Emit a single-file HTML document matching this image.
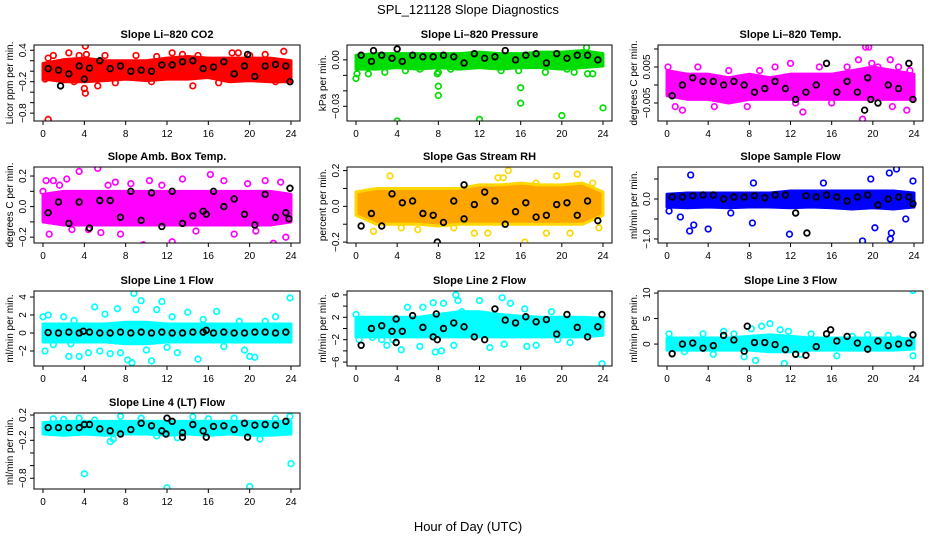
<!DOCTYPE html>
<html><head><meta charset="utf-8"><style>
body{margin:0;background:#fff;}
svg{display:block;font-family:"Liberation Sans",sans-serif;}
</style></head><body>
<svg id="chart" width="936" height="540" viewBox="0 0 936 540">
<rect width="936" height="540" fill="#fff"/>
<text x="468" y="14" text-anchor="middle" font-size="13">SPL_121128  Slope Diagnostics</text>
<text x="468" y="531" text-anchor="middle" font-size="13">Hour of Day (UTC)</text>
</svg>
<script>
const hourTicks = [0,4,8,12,16,20,24];
const bandT = [0,2,4,6,8,10,12,14,16,18,20,22,24];
const blackT = [0.5,1.5,2.5,3.5,4.5,5.5,6.5,7.5,8.5,9.5,10.5,11.5,12.5,13.5,14.5,15.5,16.5,17.5,18.5,19.5,20.5,21.5,22.5,23.5];

// Panel 1: CO2
const lo1 = [-0.15,-0.2,-0.2,-0.18,-0.15,-0.18,-0.15,-0.15,-0.12,-0.2,-0.18,-0.2,-0.2];
const hi1 = [0.15,0.22,0.25,0.2,0.2,0.2,0.25,0.28,0.25,0.25,0.25,0.25,0.2];
const ct1 = [0.2,0.5,1.0,1.5,2.5,3.0,3.5,4.1,4.2,4.0,4.1,5.3,6.0,7.0,9.0,10.5,11.0,12.5,13.5,14.5,15.0,17.0,18.3,18.9,20.0,21.5,22.5,23.3,23.9,0.5];
const cv1 = [-0.15,0.25,0.3,-0.1,0.35,-0.2,0.3,0.48,0.32,-0.33,-0.42,-0.28,0.3,-0.22,0.3,-0.2,0.28,0.35,0.32,-0.28,0.3,-0.22,0.35,0.35,0.3,0.32,-0.2,0.38,-0.2,-0.92];
const bv1 = [0.05,0.02,-0.05,0.1,0.06,0.2,0.05,0.1,0.0,0.02,0.0,0.12,0.12,0.18,0.2,0.05,0.08,0.18,-0.05,0.1,-0.1,0.1,0.13,0.1];
const xt1 = [1.7,23.9,4.0,19.8];
const xv1 = [-0.28,-0.2,-0.15,0.32];

// Panel 2: Pressure
const lo2 = [-0.006,-0.006,-0.005,-0.006,-0.005,-0.006,-0.005,-0.006,-0.005,-0.005,-0.006,-0.005,-0.004];
const hi2 = [0.003,0.004,0.004,0.004,0.004,0.004,0.005,0.004,0.004,0.005,0.005,0.006,0.004];
const ct2 = [0,0.1,1.2,2.8,4,4.8,6.2,7.9,8,8,8,9.2,12,14.1,15.8,16,16,18.4,20,20.5,21.2,22.5,23.0,24,22.4];
const cv2 = [-0.012,-0.009,-0.009,-0.008,-0.0395,-0.007,-0.006,-0.009,-0.017,-0.023,-0.008,-0.006,-0.0385,-0.007,-0.007,-0.018,-0.028,-0.008,-0.036,-0.006,-0.008,-0.009,-0.009,-0.031,0.008];
const bv2 = [0.003,-0.001,0.003,0.001,-0.001,0.003,0.002,0.002,0.003,0.002,-0.002,0.004,0.001,0.002,0.006,0.0,0.003,0.004,-0.002,0.004,0.001,0.003,0.003,0.0];
const xt2 = [1.7,4.0];
const xv2 = [0.006,0.007];

// Panel 3: Li-820 Temp
const lo3 = [-0.003,-0.004,-0.004,-0.005,-0.004,-0.004,-0.004,-0.004,-0.004,-0.004,-0.004,-0.004,-0.004];
const hi3 = [0.004,0.003,0.003,0.002,0.003,0.002,0.003,0.003,0.003,0.004,0.005,0.004,0.003];
const ct3 = [0.1,0.8,1.5,3,4.6,6,7.8,9,10.5,12.5,13.2,14.8,16,17.5,18.6,19,19.3,19.6,19.9,20.5,21.7,21.9,22.5,23.3,23.6,12];
const cv3 = [0.005,-0.006,-0.007,0.005,-0.006,0.004,-0.006,0.004,0.005,-0.005,-0.0075,0.005,-0.005,0.005,0.007,-0.0095,0.0105,0.0105,0.006,0.005,0.007,-0.006,0.005,-0.007,0.004,0.006];
const bv3 = [-0.003,0.0,0.002,0.001,0.001,0.0,0.001,0.0,-0.002,-0.001,0.001,-0.001,-0.004,-0.002,0.0,0.006,-0.002,0.001,-0.002,0.002,-0.005,0.0,-0.001,0.006];
const xt3 = [19.2,19.8,23.9];
const xv3 = [-0.007,-0.004,-0.004];

// Panel 4: Amb Box Temp
const lo4 = [-0.1,-0.12,-0.12,-0.12,-0.12,-0.12,-0.12,-0.12,-0.12,-0.12,-0.12,-0.12,-0.1];
const hi4 = [0.08,0.1,0.1,0.1,0.1,0.1,0.1,0.1,0.1,0.1,0.1,0.1,0.08];
const ct4 = [0,0.3,0.6,1,1.6,2.3,2.8,3.5,4.4,5.3,5.6,6.3,7.0,7.5,8.5,9.7,10.3,11.5,12.5,13.5,14.8,16.2,17.5,18.5,19.8,20.6,21.5,22.3,23,23.5];
const cv4 = [0.1,0.17,-0.18,0.17,0.14,0.18,-0.15,0.23,-0.15,0.25,-0.17,0.14,0.16,-0.18,0.15,-0.25,0.17,0.14,-0.23,0.18,-0.16,0.21,0.17,-0.18,0.15,-0.16,0.17,-0.24,0.16,-0.2];
const bv4 = [-0.04,0.03,-0.11,0.03,-0.14,0.04,0.04,-0.07,0.1,-0.09,0.09,-0.13,0.1,-0.11,-0.06,-0.03,0.1,0.0,0.05,-0.05,-0.12,0.08,-0.07,-0.04];
const xt4 = [23.9,23.8,15.8];
const xv4 = [0.12,-0.08,-0.05];

// Panel 5: Gas Stream RH
const lo5 = [-0.05,-0.1,-0.1,-0.1,-0.11,-0.1,-0.1,-0.1,-0.1,-0.1,-0.1,-0.1,-0.05];
const hi5 = [0.08,0.1,0.1,0.1,0.1,0.1,0.12,0.12,0.13,0.12,0.12,0.13,0.08];
const ct5 = [1.7,3.3,4.4,6,9.5,11.5,12.8,13.8,14.3,14.8,16.4,17.5,18.5,19.5,20.8,21.5,23,23.6];
const cv5 = [-0.14,0.17,-0.12,-0.13,-0.12,-0.15,-0.15,0.16,0.16,0.2,-0.2,0.13,-0.15,0.17,-0.15,0.18,0.13,-0.12];
const bv5 = [-0.11,-0.04,-0.11,0.07,0.02,0.03,-0.04,-0.05,-0.09,0.03,-0.07,0.01,0.08,0.03,-0.1,-0.03,0.02,-0.06,-0.05,0.01,0.02,-0.05,0.03,-0.08];
const xt5 = [7.9,10.5];
const xv5 = [-0.2,0.12];

// Panel 6: Sample Flow
const lo6 = [-0.2,-0.22,-0.2,-0.22,-0.2,-0.2,-0.22,-0.2,-0.22,-0.25,-0.22,-0.25,-0.2];
const hi6 = [0.12,0.15,0.15,0.15,0.15,0.15,0.2,0.2,0.2,0.2,0.2,0.2,0.15];
const ct6 = [0.2,1.3,2.3,2.2,2.6,4,8.3,8.4,11.9,15.2,19,19.8,20.2,21.6,21.8,21.7,22.3,23.2,23.9,6.2];
const cv6 = [-0.3,-0.45,0.6,-0.8,-0.65,-0.75,-0.6,0.4,-0.88,0.4,-1.05,0.5,-0.72,0.65,-0.85,-1.0,0.75,-0.5,0.45,-0.35];
const bv6 = [0.05,0.05,0.08,0.1,0.1,0.0,0.05,0.05,0.08,0.03,0.1,0.1,-0.35,0.08,0.05,0.1,0.05,-0.05,0.05,0.1,-0.15,0.0,0.05,0.05];
const xt6 = [13.6,23.9];
const xv6 = [-0.85,-0.12];

// Panel 7: Line 1 Flow
const lo7 = [-1,-1,-1,-1,-1.2,-1.2,-1,-1,-1,-1,-1,-1,-1];
const hi7 = [1,1,1,1,1.2,1.2,1,1,1,1,1,1,1];
const ct7 = [0,0.2,0.5,1,2,2.5,3,3.5,4.4,5,5.5,6,6.5,7.2,7.5,8.2,8.6,8.8,9,9.5,10,10.5,11,11.5,12,12.5,13,14,15,15.5,16.8,17.5,19,19.5,20,20.5,21.5,22.5,23.9,2.7];
const cv7 = [1.8,-2,2,-1.3,1.8,-2.6,1.4,-2.6,-2.2,2.9,-2,2.1,-2.3,2.7,-2.2,-3,-3.3,4.4,2.6,3.6,-1.9,-3.1,2.6,3.5,-1.6,1.8,-2.2,2.3,-2.9,1.5,2.4,-1.5,1.3,-1.9,-2.6,-2.7,1.3,1.8,3.9,-1.2];
const bv7 = [0.05,0,0.1,0,0.1,0,0,0.1,0,0.1,0,0.1,0,0,0.1,0.1,0,0.1,0,0,0.1,0.1,0,0.1];
const xt7 = [15.8,3.9];
const xv7 = [0.3,0.2];

// Panel 8: Line 2 Flow
const lo8 = [-1.5,-1.5,-1.5,-1.5,-1.5,-1.5,-1.5,-1.5,-1.5,-1.5,-1.5,-1.5,-1.2];
const hi8 = [2,2,2,2,2.5,3,3,2.5,2.2,2,2,2,1.8];
const ct8 = [0,0.3,1.6,2.2,2.5,3,3.6,4.4,5,5.7,6.2,6.5,7.5,7.7,8.3,8.5,9.5,9.7,9.9,10.3,12,13,14.2,15,16.4,16.6,17.5,19,19.6,20.8,23.9,14.4];
const cv8 = [2.5,-2,-1.6,1.5,-2,-3,-2,-3.8,3.8,-0.5,-3.2,3.8,4.6,-4.2,-4,4.5,-3,6,5,3,5,-3.4,5.5,4.5,3.5,-3.2,-3,3,-2,-2.5,-6.3,-2.8];
const bv8 = [-3,0,0.5,-0.5,-0.5,2.3,0.2,-1.5,0,1,0.3,-1.5,-2,3.5,1.5,1,2.1,1.2,1.6,-1,2.5,0.2,-1.5,0.3];
const xt8 = [3.9,3.9,7.8,7.9,23.9];
const xv8 = [1.7,-2.5,2.6,-2,2.5];

// Panel 9: Line 3 Flow
const lo9 = [-1.2,-1.2,-1.2,-1.2,-1.2,-1.5,-1.5,-1.2,-1.2,-1.2,-1.2,-1.2,-1];
const hi9 = [1.2,1.2,1.2,1.2,1.5,1.8,1.5,1.2,1.2,1.2,1.2,1.2,1];
const ct9 = [0.2,1.7,3.5,4.5,5.5,6.5,7.5,8.2,8.6,9.2,10,11,11.4,11.8,13,14,16.5,18,19.5,21.5,22.5,23.9,23.9];
const cv9 = [2,-1.5,2,-2,2.5,2,-2.5,3,-3.2,3.5,4,2.8,-3.8,2.5,-2,2,-2.3,1.5,1.8,1.7,1,10.5,-2.3];
const bv9 = [-1.9,0,0.2,-0.8,-0.3,1.7,0.8,-1.4,0.3,0.3,-0.1,-1.1,-2,-2.2,-0.5,2,0.6,1.5,0.2,-1,0.6,-0.3,0,0.2];
const xt9 = [7.8,15.9,23.9];
const xv9 = [3.5,2.8,1.8];

// Panel 10: Line 4 (LT) Flow
const lo10 = [-0.1,-0.12,-0.1,-0.12,-0.1,-0.1,-0.12,-0.1,-0.12,-0.1,-0.12,-0.12,-0.1];
const hi10 = [0.08,0.1,0.1,0.1,0.1,0.1,0.1,0.1,0.1,0.1,0.1,0.1,0.1];
const ct10 = [0.2,1,2,3.5,4,5,6.5,6.8,7.5,9.5,11,12,13,14.5,16,18.5,20,21,22.5,24,23.9];
const cv10 = [-0.05,0.14,0.13,0.15,-0.73,0.12,-0.22,-0.18,0.18,0.15,-0.13,-0.95,-0.16,0.17,0.14,0.15,-0.93,-0.18,0.14,-0.57,0.18];
const bv10 = [0,0,0,0,0.05,-0.02,-0.05,-0.1,-0.03,0.07,0.03,-0.05,0.1,-0.08,0.05,-0.05,0.02,0.03,-0.03,0.07,0.04,0.05,0.04,0.1];
const xt10 = [4,12,11.9,13.5,15.8,19.8];
const xv10 = [0.05,0.15,-0.1,-0.15,-0.15,-0.15];

const NS = 'http://www.w3.org/2000/svg';
const svg = document.getElementById('chart');
function mk(tag, attrs, parent){ const e=document.createElementNS(NS,tag); for(const k in attrs) e.setAttribute(k,attrs[k]); (parent||svg).appendChild(e); return e; }

const cols = [[34,300],[347,612],[658,923]];
const rows = [[45,121],[167,243],[291,366],[413,489]];
const panels = [
 {title:'Slope Li-820 CO2', c:0,r:0, ylab:'Licor ppm per min.', ymin:-0.95, ymax:0.5, ticks:[0.4,0.2,0,-0.2,-0.4,-0.6,-0.8], labels:['0.4','','','-0.2','','','-0.8'], col:'#ff0000', lo:lo1,hi:hi1,ct:ct1,cv:cv1,bv:bv1,xt:xt1,xv:xv1},
 {title:'Slope Li-820 Pressure', c:1,r:0, ylab:'kPa per min.', ymin:-0.0395, ymax:0.0096, ticks:[0,-0.01,-0.02,-0.03], labels:['0.00','','','-0.03'], col:'#00dd00', lo:lo2,hi:hi2,ct:ct2,cv:cv2,bv:bv2,xt:xt2,xv:xv2},
 {title:'Slope Li-820 Temp.', c:2,r:0, ylab:'degrees C per min.', ymin:-0.0100, ymax:0.0111, ticks:[0.01,0.005,0,-0.005], labels:['','0.005','','-0.005'], col:'#ff00ff', lo:lo3,hi:hi3,ct:ct3,cv:cv3,bv:bv3,xt:xt3,xv:xv3},
 {title:'Slope Amb. Box Temp.', c:0,r:1, ylab:'degrees C per min.', ymin:-0.238, ymax:0.259, ticks:[0.2,0.1,0,-0.1,-0.2], labels:['0.2','','0.0','','-0.2'], col:'#ff00ff', lo:lo4,hi:hi4,ct:ct4,cv:cv4,bv:bv4,xt:xt4,xv:xv4},
 {title:'Slope Gas Stream RH', c:1,r:1, ylab:'percent per min.', ymin:-0.205, ymax:0.22, ticks:[0.2,0.1,0,-0.1,-0.2], labels:['0.2','','0.0','','-0.2'], col:'#ffa500', stroke:'#ffd700', lo:lo5,hi:hi5,ct:ct5,cv:cv5,bv:bv5,xt:xt5,xv:xv5},
 {title:'Slope Sample Flow', c:2,r:1, ylab:'ml/min per min.', ymin:-1.1, ymax:0.8, ticks:[0.5,0,-0.5,-1], labels:['','0.0','','-1.0'], col:'#0000ff', lo:lo6,hi:hi6,ct:ct6,cv:cv6,bv:bv6,xt:xt6,xv:xv6},
 {title:'Slope Line 1 Flow', c:0,r:2, ylab:'ml/min per min.', ymin:-3.67, ymax:4.67, ticks:[4,2,0,-2], labels:['4','2','0','-2'], col:'#00ffff', lo:lo7,hi:hi7,ct:ct7,cv:cv7,bv:bv7,xt:xt7,xv:xv7},
 {title:'Slope Line 2 Flow', c:1,r:2, ylab:'ml/min per min.', ymin:-6.7, ymax:6.7, ticks:[6,4,2,0,-2,-4,-6], labels:['6','','2','','-2','','-6'], col:'#00ffff', lo:lo8,hi:hi8,ct:ct8,cv:cv8,bv:bv8,xt:xt8,xv:xv8},
 {title:'Slope Line 3 Flow', c:2,r:2, ylab:'ml/min per min.', ymin:-4.3, ymax:10.4, ticks:[10,5,0], labels:['10','5','0'], col:'#00ffff', lo:lo9,hi:hi9,ct:ct9,cv:cv9,bv:bv9,xt:xt9,xv:xv9},
 {title:'Slope Line 4 (LT) Flow', c:0,r:3, ylab:'ml/min per min.', ymin:-0.97, ymax:0.232, ticks:[0.2,0,-0.2,-0.4,-0.6,-0.8], labels:['0.2','','-0.2','','','-0.8'], col:'#00ffff', lo:lo10,hi:hi10,ct:ct10,cv:cv10,bv:bv10,xt:xt10,xv:xv10}
];

panels.forEach((p,i)=>{
  const [L,R]=cols[p.c], [T,B]=rows[p.r];
  const g = mk('g',{});
  
  
  const xs = t => L+9+t/24*(R-L-18);
  const ys = v => B-(v-p.ymin)/(p.ymax-p.ymin)*(B-T);
  const clip = 'clip'+i;
  const cp = mk('clipPath',{id:clip},g); mk('rect',{x:L,y:T,width:R-L,height:B-T},cp);
  const plot = mk('g',{'clip-path':'url(#'+clip+')'},g);
  let pts=[]; bandT.forEach((t,k)=>pts.push(xs(t)+','+ys(p.hi[k])));
  for(let k=bandT.length-1;k>=0;k--) pts.push(xs(bandT[k])+','+ys(p.lo[k]));
  const band = mk('polygon',{points:pts.join(' '),fill:p.col,stroke:p.stroke||p.col,'stroke-width':3,'stroke-linejoin':'round'},plot);
  
  
  p.ct.forEach((t,k)=>{
    const c = mk('circle',{cx:xs(t),cy:ys(p.cv[k]),r:2.8,fill:'none',stroke:p.stroke||p.col,'stroke-width':1.7},plot);
    
    
  });
  blackT.forEach((t,k)=>{
    const c = mk('circle',{cx:xs(t),cy:ys(p.bv[k]),r:2.8,fill:'none',stroke:'#000','stroke-width':1.8},plot);
    
    
  });
  p.xt.forEach((t,k)=>{
    const c = mk('circle',{cx:xs(t),cy:ys(p.xv[k]),r:2.8,fill:'none',stroke:'#000','stroke-width':1.8},plot);
    
    
  });
  const box = mk('rect',{x:L,y:T,width:R-L,height:B-T,fill:'none',stroke:'#000','stroke-width':1},g);
  
  
  const tt = mk('text',{x:(L+R)/2,y:T-7,'text-anchor':'middle','font-size':11,'font-weight':'bold'},g);
  tt.textContent = p.title.replace(/-/g,'–');
  
  
  hourTicks.forEach(h=>{
    mk('line',{x1:xs(h),x2:xs(h),y1:B,y2:B+4,stroke:'#000'},g);
    const tl = mk('text',{x:xs(h),y:B+16,'text-anchor':'middle','font-size':10},g);
    tl.textContent = h;
    
    
  });
  p.ticks.forEach((v,k)=>{
    mk('line',{x1:L-4,x2:L,y1:ys(v),y2:ys(v),stroke:'#000'},g);
    if(p.labels[k]){
      const yl = mk('text',{x:0,y:0,'text-anchor':'middle','font-size':10,transform:'translate('+(L-8)+','+ys(v)+') rotate(-90)'},g);
      yl.textContent = p.labels[k].replace('-','−');
      
      
    }
  });
  const ytl = mk('text',{x:0,y:0,'text-anchor':'middle','font-size':10,transform:'translate('+(L-21)+','+((T+B)/2)+') rotate(-90)'},g);
  ytl.textContent = p.ylab;
  
  
});
</script>
</body></html>
